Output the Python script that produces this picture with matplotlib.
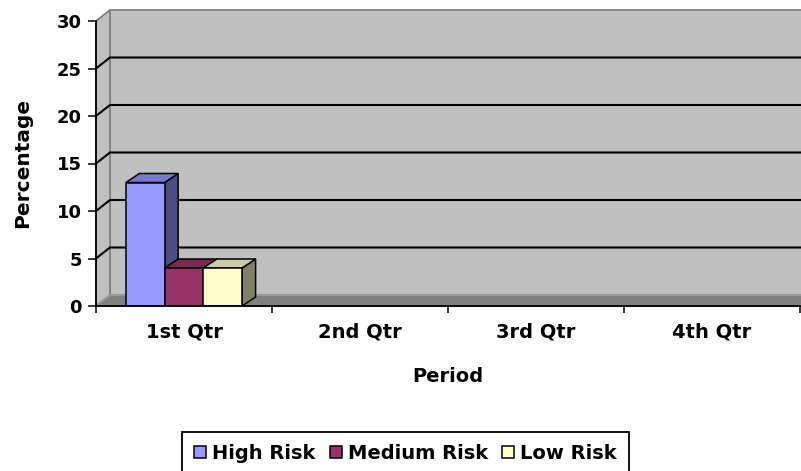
import matplotlib
matplotlib.use('Agg')
import matplotlib.pyplot as plt
from matplotlib.patches import Polygon, Patch
from matplotlib.colors import to_rgb

# Chart data
categories = ['1st Qtr', '2nd Qtr', '3rd Qtr', '4th Qtr']
series_names = ['High Risk', 'Medium Risk', 'Low Risk']
high_risk = [13, None, None, None]
medium_risk = [4, None, None, None]
low_risk = [4, None, None, None]
y_ticks = [0, 5, 10, 15, 20, 25, 30]

series_values = [high_risk, medium_risk, low_risk]
face_colors = ['#9999FF', '#993366', '#FFFFCC']

plt.rcParams['font.family'] = ['DejaVu Sans']
plt.rcParams['font.weight'] = 'bold'


def shade(color, factor):
    r, g, b = to_rgb(color)
    return (r * factor, g * factor, b * factor)


fig = plt.figure(figsize=(8.01, 4.71), dpi=100)
fig.patch.set_facecolor('white')
ax = fig.add_axes([96 / 801, 165 / 471, 704 / 801, 285 / 471])
xmax = len(categories)
ymax = y_ticks[-1]
ax.set_xlim(0, xmax)
ax.set_ylim(0, ymax)
ax.set_facecolor('none')

# oblique depth of the chart box and of the bars (data units)
wall_dx, wall_dy = 14 / 176, 11 / 9.5
bar_dx, bar_dy = 13.5 / 176, 9 / 9.5

# back wall, side wall and floor
ax.add_patch(Polygon([(wall_dx, wall_dy), (xmax + wall_dx, wall_dy),
                      (xmax + wall_dx, ymax + wall_dy), (wall_dx, ymax + wall_dy)],
                     closed=True, fc='#C0C0C0', ec='#808080', lw=1.3,
                     clip_on=False, zorder=0))
ax.add_patch(Polygon([(0, 0), (wall_dx, wall_dy), (wall_dx, ymax + wall_dy), (0, ymax)],
                     closed=True, fc='#C0C0C0', ec='#808080', lw=1.3,
                     clip_on=False, zorder=0))
ax.add_patch(Polygon([(0, 0), (xmax, 0), (xmax + wall_dx, wall_dy), (wall_dx, wall_dy)],
                     closed=True, fc='#808080', ec='#9A9A9A', lw=1.3,
                     clip_on=False, zorder=0.5))

# gridlines across side wall and back wall
for v in y_ticks[1:-1]:
    ax.plot([0, wall_dx, xmax + wall_dx], [v, v + wall_dy, v + wall_dy],
            color='black', lw=1.5, clip_on=False, zorder=1)

# 3-D bars
group = 0.66
bw = group / len(series_values)
z = 2
for j, vals in enumerate(series_values):
    col = face_colors[j]
    for i, v in enumerate(vals):
        if v is None:
            continue
        x0 = i + (1 - group) / 2 + j * bw
        x1 = x0 + bw
        side = Polygon([(x1, 0), (x1 + bar_dx, bar_dy), (x1 + bar_dx, v + bar_dy), (x1, v)],
                       closed=True, fc=shade(col, 0.5), ec='black', lw=1.1,
                       joinstyle='miter', zorder=z)
        top = Polygon([(x0, v), (x1, v), (x1 + bar_dx, v + bar_dy), (x0 + bar_dx, v + bar_dy)],
                      closed=True, fc=shade(col, 0.8), ec='black', lw=1.1,
                      joinstyle='miter', zorder=z + 0.1)
        front = Polygon([(x0, 0), (x1, 0), (x1, v), (x0, v)],
                        closed=True, fc=col, ec='black', lw=1.1,
                        joinstyle='miter', zorder=z + 0.2)
        for p in (side, top, front):
            ax.add_patch(p)
    z += 1

# axes lines and ticks
for s in ('top', 'right'):
    ax.spines[s].set_visible(False)
for s in ('left', 'bottom'):
    ax.spines[s].set_color('black')
    ax.spines[s].set_linewidth(1.3)
    ax.spines[s].set_zorder(10)

ax.set_yticks(y_ticks)
ax.set_yticklabels([str(t) for t in y_ticks])
ax.tick_params(axis='y', direction='out', length=6, width=1.1, pad=4,
               labelsize=13, colors='black')

ax.set_xticks(range(xmax + 1))
ax.set_xticklabels([])
ax.set_xticks([i + 0.5 for i in range(xmax)], minor=True)
ax.set_xticklabels(categories, minor=True)
ax.tick_params(axis='x', which='major', direction='out', length=5, width=1.1)
ax.tick_params(axis='x', which='minor', length=0, pad=12, labelsize=14)

ax.set_xlabel('Period', fontsize=14, fontweight='bold', va='center')
ax.xaxis.set_label_coords(0.5, (306 - 377) / 285)
ax.set_ylabel('Percentage', fontsize=14.5, fontweight='bold', va='center', ha='center')
ax.yaxis.set_label_coords((23 - 96) / 704, (306 - 163) / 285)

# legend
handles = [Patch(facecolor=c, edgecolor='black', lw=1.1) for c in face_colors]
leg = fig.legend(handles, series_names, loc='upper center',
                 bbox_to_anchor=(405.4 / 801, 1 - 432 / 471), ncol=3,
                 frameon=True, fancybox=False, edgecolor='black',
                 prop={'weight': 'bold', 'size': 14},
                 handlelength=0.62, handleheight=0.57, handletextpad=0.3,
                 columnspacing=0.75, borderpad=0.62, borderaxespad=0)
leg.get_frame().set_linewidth(1.3)
leg.get_frame().set_alpha(1)

fig.savefig('out.png', dpi=100, facecolor='white')
